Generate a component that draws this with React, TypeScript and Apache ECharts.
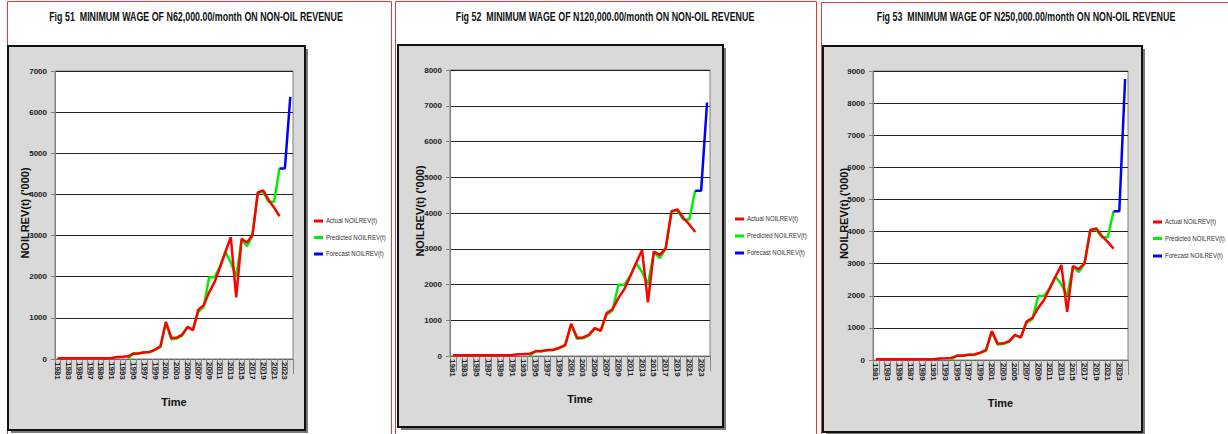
import { useEffect, useRef } from "react";
import * as echarts from "echarts";

const years = [
  "1981", "1982", "1983", "1984", "1985", "1986", "1987", "1988", "1989", "1990",
  "1991", "1992", "1993", "1994", "1995", "1996", "1997", "1998", "1999", "2000",
  "2001", "2002", "2003", "2004", "2005", "2006", "2007", "2008", "2009", "2010",
  "2011", "2012", "2013", "2014", "2015", "2016", "2017", "2018", "2019", "2020",
  "2021", "2022", "2023", "2024",
];

const actual = [
  20, 20, 20, 20, 20, 20, 20, 20, 20, 20,
  25, 50, 55, 65, 130, 135, 165, 170, 230, 310,
  900, 510, 520, 590, 780, 700, 1200, 1310, 1620, 1870,
  2230, 2600, 2960, 1500, 2920, 2830, 3010, 4050, 4100, 3860,
  3680, 3470, null, null,
];

const predicted = [
  null, null, null, null, null, null, null, null, null, null,
  null, null, null, 5, 140, 140, 160, 165, 220, 290,
  890, 480, 495, 570, 770, 720, 1150, 1270, 1990, 1990,
  2240, 2600, 2350, 2000, 2900, 2740, 3000, 4040, 4060, 3820,
  3820, 4630, null, null,
];

const forecast51 = [
  null, null, null, null, null, null, null, null, null, null,
  null, null, null, null, null, null, null, null, null, null,
  null, null, null, null, null, null, null, null, null, null,
  null, null, null, null, null, null, null, null, null, null,
  null, 4630, 4630, 6370,
];
const forecast52 = [
  null, null, null, null, null, null, null, null, null, null,
  null, null, null, null, null, null, null, null, null, null,
  null, null, null, null, null, null, null, null, null, null,
  null, null, null, null, null, null, null, null, null, null,
  null, 4625, 4625, 7090,
];
const forecast53 = [
  null, null, null, null, null, null, null, null, null, null,
  null, null, null, null, null, null, null, null, null, null,
  null, null, null, null, null, null, null, null, null, null,
  null, null, null, null, null, null, null, null, null, null,
  null, 4630, 4630, 8750,
];

const forecasts = [forecast51, forecast52, forecast53];
const yMaxes = [7000, 8000, 9000];
const titles = [
  "Fig 51  MINIMUM WAGE OF N62,000.00/month ON NON-OIL REVENUE",
  "Fig 52  MINIMUM WAGE OF N120,000.00/month ON NON-OIL REVENUE",
  "Fig 53  MINIMUM WAGE OF N250,000.00/month ON NON-OIL REVENUE",
];
const seriesNames = ["Actual NOILREV(t)", "Predicted NOILREV(t)", "Forecast NOILREV(t)"];
const seriesColors = ["#ff0000", "#00ee00", "#0000ff"];
const yName = "NOILREV(t) ('000)";
const xName = "Time";

const panels = [
  { frame: { x: 7.5, y: 1.5, w: 384 }, box: { x: 8, y: 46, w: 297, h: 384 }, grid: { left: 55, top: 71, width: 238, height: 288 }, legend: { left: 314, tops: [221, 237.5, 254] }, titleX: 196, yNameX: 25 },
  { frame: { x: 395.5, y: 1.5, w: 421 }, box: { x: 398, y: 45, w: 325, h: 382 }, grid: { left: 450, top: 70, width: 260, height: 286 }, legend: { left: 735, tops: [219, 236, 253] }, titleX: 605, yNameX: 420 },
  { frame: { x: 821.5, y: 2.5, w: 420 }, box: { x: 823, y: 46, w: 319, h: 386 }, grid: { left: 873, top: 71, width: 255, height: 289 }, legend: { left: 1153, tops: [222, 238.5, 256] }, titleX: 1026, yNameX: 844 },
];

const FONT = "'Liberation Sans', Arial, sans-serif";

export default function App() {
  const ref = useRef<HTMLDivElement>(null);
  useEffect(() => {
    if (!ref.current) return;
    const chart = echarts.init(ref.current, null, { renderer: "svg" });
    const graphic: any[] = [];
    panels.forEach((p, i) => {
      graphic.push({
        type: "rect", z: -20, silent: true,
        shape: { x: p.frame.x, y: p.frame.y, width: p.frame.w, height: 460 },
        style: { fill: "#fff", stroke: "#e8393a", lineWidth: 1 },
      });
      graphic.push({
        type: "rect", z: -19, silent: true,
        shape: { x: p.box.x + 3, y: p.box.y + 3, width: p.box.w, height: p.box.h },
        style: { fill: "#7a7a7a" },
      });
      graphic.push({
        type: "rect", z: -18, silent: true,
        shape: { x: p.box.x, y: p.box.y, width: p.box.w, height: p.box.h },
        style: { fill: "#d9d9d9", stroke: "#111", lineWidth: 2 },
      });
      graphic.push({
        type: "text", z: 10, silent: true,
        x: p.titleX, y: 16, scaleX: 0.74,
        style: {
          text: titles[i], font: `bold 12px ${FONT}`, fill: "#111",
          align: "center", verticalAlign: "middle",
        },
      });
      graphic.push({
        type: "text", z: 10, silent: true,
        x: p.yNameX, y: p.grid.top + p.grid.height / 2 - 2, rotation: Math.PI / 2,
        style: {
          text: yName, font: `bold 11px ${FONT}`, fill: "#111",
          align: "center", verticalAlign: "middle",
        },
      });
      seriesNames.forEach((name, k) => {
        const ty = p.legend.tops[k];
        graphic.push({
          type: "rect", z: 10, silent: true,
          shape: { x: p.legend.left, y: ty - 1.5, width: 9, height: 3 },
          style: { fill: seriesColors[k] },
        });
        graphic.push({
          type: "text", z: 10, silent: true,
          x: p.legend.left + 12, y: ty, scaleX: 0.76,
          style: {
            text: name, font: `8px ${FONT}`, fill: "#333",
            align: "left", verticalAlign: "middle",
          },
        });
      });
    });

    const option: any = {
      animation: false,
      backgroundColor: "#fff",
      textStyle: { fontFamily: FONT },
      graphic,
      grid: panels.map((p) => ({
        left: p.grid.left, top: p.grid.top, width: p.grid.width, height: p.grid.height,
        show: true, backgroundColor: "#fff", borderColor: "#808080", borderWidth: 1,
        containLabel: false,
      })),
      xAxis: panels.map((p, i) => ({
        type: "category",
        gridIndex: i,
        data: years,
        boundaryGap: true,
        name: xName,
        nameLocation: "middle",
        nameGap: 37,
        nameTextStyle: { fontSize: 11, fontWeight: "bold", color: "#111", fontFamily: FONT },
        axisLine: { lineStyle: { color: "#666", width: 1 } },
        axisTick: { show: true, interval: 0, length: 15, lineStyle: { color: "#888" } },
        axisLabel: { interval: 1, rotate: -90, fontSize: 8, fontWeight: "bold", color: "#222", margin: 3, fontFamily: FONT },
        splitLine: { show: false },
      })),
      yAxis: panels.map((p, i) => ({
        type: "value",
        gridIndex: i,
        min: 0,
        max: yMaxes[i],
        interval: 1000,
        axisLine: { show: true, lineStyle: { color: "#808080" } },
        axisTick: { show: true, length: 4, lineStyle: { color: "#808080" } },
        axisLabel: {
          fontSize: 8, fontWeight: "bold", color: "#222", margin: 8, fontFamily: FONT,
          formatter: (v: number) => String(v),
        },
        splitLine: { show: true, lineStyle: { color: "#222", width: 1 } },
      })),
      series: panels.flatMap((p, i) => [
        {
          name: seriesNames[1], type: "line", xAxisIndex: i, yAxisIndex: i,
          data: predicted, symbol: "none", connectNulls: false,
          lineStyle: { color: seriesColors[1], width: 2.5 }, itemStyle: { color: seriesColors[1] },
        },
        {
          name: seriesNames[0], type: "line", xAxisIndex: i, yAxisIndex: i,
          data: actual, symbol: "none",
          lineStyle: { color: seriesColors[0], width: 2.5 }, itemStyle: { color: seriesColors[0] },
        },
        {
          name: seriesNames[2], type: "line", xAxisIndex: i, yAxisIndex: i,
          data: forecasts[i], symbol: "none",
          lineStyle: { color: seriesColors[2], width: 2.5 }, itemStyle: { color: seriesColors[2] },
        },
      ]),
    };
    chart.setOption(option);
    return () => chart.dispose();
  }, []);
  return (
    <div
      ref={ref}
      style={{ position: "fixed", left: 0, top: 0, width: 1228, height: 434, background: "#fff" }}
    />
  );
}
